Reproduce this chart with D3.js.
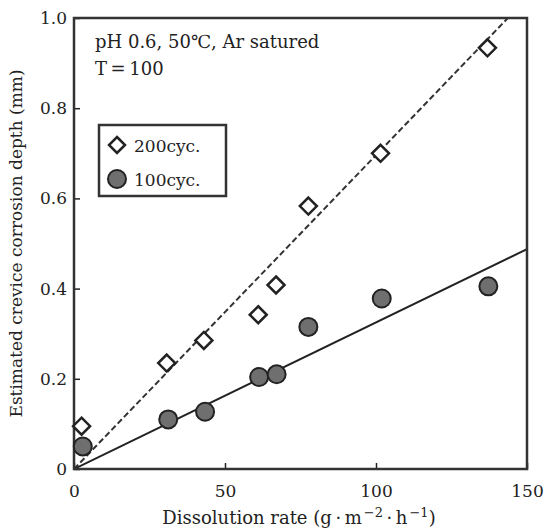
<!DOCTYPE html>
<html>
<head>
<meta charset="utf-8">
<script src="https://cdn.jsdelivr.net/npm/d3@7"></script>
<style>
  html, body { margin: 0; padding: 0; background: #fff; }
  svg text { font-family: "DejaVu Serif", serif; fill: #222; }
</style>
</head>
<body>
<svg id="chart" width="547" height="531"></svg>
<script>
// ---- data ----
const rate200 = [2.5, 30.7, 43.0, 61.0, 66.9, 77.6, 101.5, 136.9];
const depth200 = [0.095, 0.235, 0.285, 0.342, 0.408, 0.583, 0.700, 0.934];
const rate100 = [2.9, 31.2, 43.4, 61.3, 67.1, 77.6, 101.9, 137.2];
const depth100 = [0.050, 0.110, 0.127, 0.204, 0.210, 0.315, 0.378, 0.405];
const slope200 = 0.00696;   // dashed fit line (through origin)
const slope100 = 0.00325;   // solid fit line (through origin)
const xTicks = [0, 50, 100, 150];
const yTicks = [0, 0.2, 0.4, 0.6, 0.8, 1.0];
const yTickLabels = ["0", "0.2", "0.4", "0.6", "0.8", "1.0"];
const legendLabels = ["200cyc.", "100cyc."];
const noteLines = ["pH 0.6, 50\u2103, Ar satured", "T\u2009=\u2009100"];

// ---- layout ----
const svg = d3.select("#chart");
const m = { left: 74, right: 527, top: 18, bottom: 469 };
const x = d3.scaleLinear().domain([0, 150]).range([m.left, m.right]);
const y = d3.scaleLinear().domain([0, 1.0]).range([m.bottom, m.top]);
const ink = "#222";
const fs = 17;

svg.append("defs").append("clipPath").attr("id", "plotclip")
  .append("rect").attr("x", m.left).attr("y", m.top)
  .attr("width", m.right - m.left).attr("height", m.bottom - m.top);

// axes (ticks inward)
const xAxis = svg.append("g").attr("transform", `translate(0,${m.bottom})`)
  .call(d3.axisBottom(x).tickValues(xTicks).tickSizeInner(-6).tickSizeOuter(0).tickPadding(16).tickFormat(d3.format("d")));
const yAxis = svg.append("g").attr("transform", `translate(${m.left},0)`)
  .call(d3.axisLeft(y).tickValues(yTicks).tickSizeInner(-6).tickSizeOuter(0).tickPadding(7).tickFormat((d, i) => yTickLabels[i]));
[xAxis, yAxis].forEach(g => {
  g.select(".domain").remove();
  g.selectAll(".tick line").attr("stroke", ink).attr("stroke-width", 1.5);
  g.selectAll(".tick text").attr("font-size", fs).attr("fill", ink)
    .style("font-family", '"DejaVu Serif", serif');
});

// fit lines
const plot = svg.append("g").attr("clip-path", "url(#plotclip)");
const line = d3.line().x(d => x(d[0])).y(d => y(d[1]));
plot.append("path").datum([[0, 0], [150, 150 * slope200]]).attr("d", line)
  .attr("fill", "none").attr("stroke", "#333").attr("stroke-width", 2).attr("stroke-dasharray", "6,3");
plot.append("path").datum([[0, 0], [150, 150 * slope100]]).attr("d", line)
  .attr("fill", "none").attr("stroke", ink).attr("stroke-width", 2);

// frame
svg.append("rect").attr("x", m.left).attr("y", m.top)
  .attr("width", m.right - m.left).attr("height", m.bottom - m.top)
  .attr("fill", "none").attr("stroke", "#333").attr("stroke-width", 2.5);

// markers
const diamond = (cx, cy, r) => `M${cx},${cy - r}L${cx + r},${cy}L${cx},${cy + r}L${cx - r},${cy}Z`;
svg.append("g").selectAll("circle").data(rate100.map((v, i) => [v, depth100[i]])).join("circle")
  .attr("cx", d => x(d[0])).attr("cy", d => y(d[1])).attr("r", 9)
  .attr("fill", "#6f6f6f").attr("stroke", ink).attr("stroke-width", 2);
svg.append("g").selectAll("path").data(rate200.map((v, i) => [v, depth200[i]])).join("path")
  .attr("d", d => diamond(x(d[0]), y(d[1]), 8.5))
  .attr("fill", "#fff").attr("stroke", ink).attr("stroke-width", 2.5);

// annotation
svg.append("text").attr("x", 95).attr("y", 48).attr("font-size", 18).text(noteLines[0]);
svg.append("text").attr("x", 95).attr("y", 75).attr("font-size", 18).text(noteLines[1]);

// legend
svg.append("rect").attr("x", 99).attr("y", 125).attr("width", 127).attr("height", 71)
  .attr("fill", "#fff").attr("stroke", "#333").attr("stroke-width", 2.5);
svg.append("path").attr("d", diamond(117, 145, 8)).attr("fill", "#fff").attr("stroke", ink).attr("stroke-width", 2.5);
svg.append("circle").attr("cx", 117).attr("cy", 179).attr("r", 9).attr("fill", "#6f6f6f").attr("stroke", ink).attr("stroke-width", 2);
svg.append("text").attr("x", 134).attr("y", 152).attr("font-size", fs).text(legendLabels[0]);
svg.append("text").attr("x", 134).attr("y", 186).attr("font-size", fs).text(legendLabels[1]);

// axis titles
const xt = svg.append("text").attr("x", 299).attr("y", 524).attr("text-anchor", "middle").attr("font-size", 18);
xt.append("tspan").text("Dissolution rate (g\u2009\u00b7\u2009m");
xt.append("tspan").attr("dy", -7).attr("dx", 2).attr("font-size", 13).text("\u22122");
xt.append("tspan").attr("dy", 7).text("\u2009\u00b7\u2009h");
xt.append("tspan").attr("dy", -7).attr("dx", 2).attr("font-size", 13).text("\u22121");
xt.append("tspan").attr("dy", 7).text(")");

svg.append("text").attr("transform", `translate(22,${(m.top + m.bottom) / 2}) rotate(-90)`)
  .attr("text-anchor", "middle").attr("font-size", fs)
  .text("Estimated crevice corrosion depth (mm)");
</script>
</body>
</html>
